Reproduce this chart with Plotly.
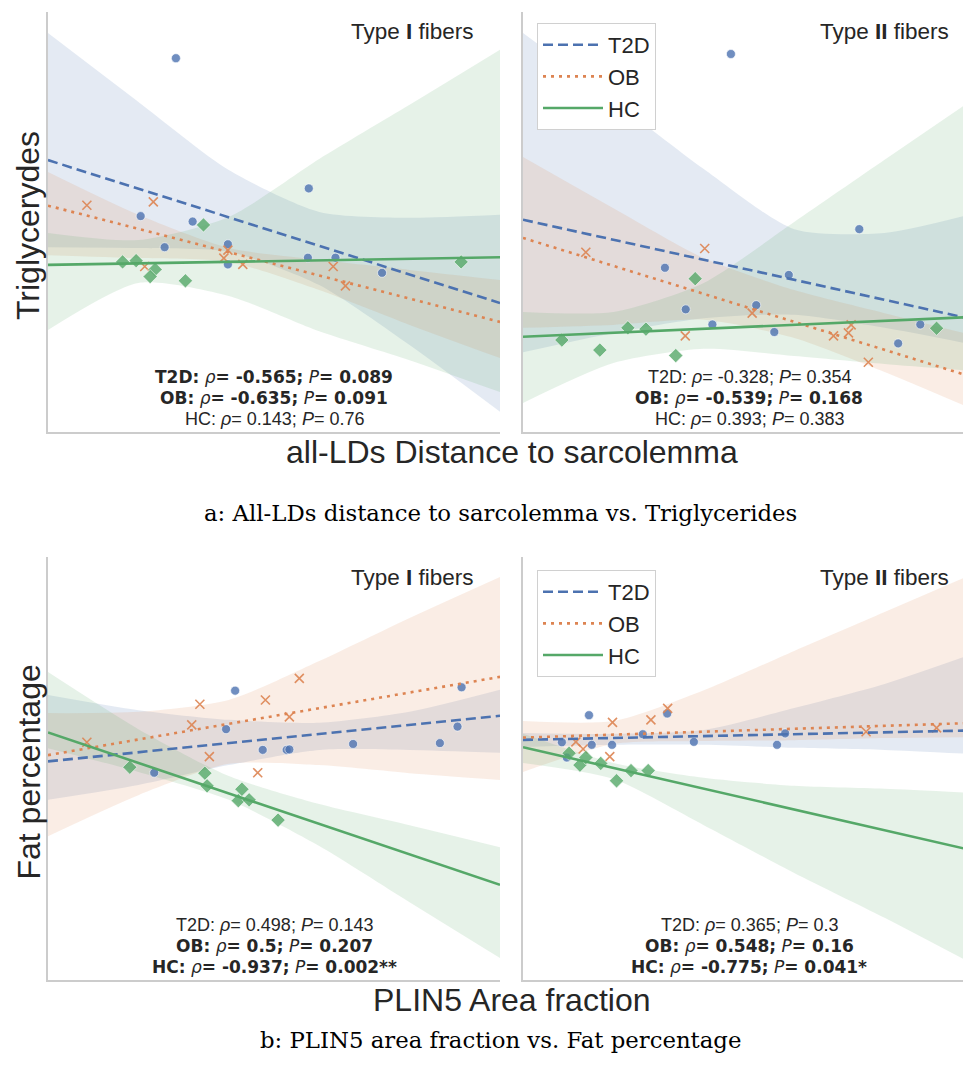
import numpy as np
import plotly.graph_objects as go

W, H = 963, 1072
GROUPS = ["T2D", "OB", "HC"]
COLORS = {"T2D": (76, 114, 176), "OB": (221, 132, 82), "HC": (85, 168, 104)}
DASH = {"T2D": "10px,5px", "OB": "3px,5px", "HC": "solid"}
TEXT = "#262626"

# ---------------- data (arbitrary units, no tick scale shown) ----------------
BAND_X = [0, 20, 40, 60, 80, 100]

# a: all-LDs distance to sarcolemma vs triglycerides, Type I fibers
A1_T2D_X = [28.3, 57.7, 20.5, 32.0, 25.8, 39.8, 39.8, 57.5, 63.6, 73.9]
A1_T2D_Y = [89.0, 58.0, 51.4, 50.1, 44.0, 44.7, 39.9, 41.5, 41.5, 37.9]
A1_OB_X = [8.6, 23.3, 21.4, 38.9, 39.8, 43.1, 63.1, 65.8]
A1_OB_Y = [54.0, 54.8, 39.4, 41.4, 43.3, 39.9, 39.4, 34.8]
A1_HC_X = [16.5, 19.5, 23.7, 22.6, 30.4, 34.4, 91.4]
A1_HC_Y = [40.5, 40.8, 38.7, 37.0, 36.0, 49.3, 40.5]
A1_T2D_HI = [95.0, 78.6, 62.4, 52.4, 51.0, 51.7]
A1_T2D_LO = [44.0, 43.8, 42.9, 35.0, 20.7, 4.8]
A1_OB_HI = [61.9, 51.7, 43.8, 41.0, 38.6, 36.2]
A1_OB_LO = [42.1, 41.4, 40.5, 33.8, 25.5, 17.6]
A1_HC_HI = [47.4, 45.7, 51.2, 65.0, 77.9, 91.0]
A1_HC_LO = [24.3, 35.5, 32.4, 24.0, 17.1, 9.5]

# a: Type II fibers
A2_T2D_X = [46.0, 74.4, 31.4, 58.8, 36.0, 51.6, 41.9, 55.6, 87.9, 83.0]
A2_T2D_Y = [90.0, 48.3, 39.1, 37.4, 29.2, 30.2, 25.6, 23.8, 25.6, 21.1]
A2_OB_X = [13.9, 40.2, 35.9, 50.7, 68.7, 72.0, 72.6, 76.4]
A2_OB_Y = [42.8, 43.7, 22.9, 28.3, 22.9, 23.6, 25.5, 16.6]
A2_HC_X = [8.6, 17.0, 23.2, 27.2, 33.8, 38.1, 91.5]
A2_HC_Y = [21.9, 19.5, 24.8, 24.5, 18.2, 36.5, 24.7]
A2_T2D_HI = [95.0, 79.0, 62.6, 48.3, 47.4, 52.1]
A2_T2D_LO = [19.0, 23.6, 27.1, 27.9, 24.8, 20.7]
A2_OB_HI = [65.5, 53.3, 41.4, 33.8, 28.3, 22.9]
A2_OB_LO = [24.8, 25.5, 26.7, 22.4, 14.3, 5.2]
A2_HC_HI = [28.6, 28.6, 35.5, 50.0, 64.8, 79.5]
A2_HC_LO = [6.9, 16.4, 19.8, 18.1, 16.2, 14.5]

# b: PLIN5 area fraction vs fat percentage, Type I fibers
B1_T2D_X = [41.4, 39.4, 23.5, 47.5, 52.8, 53.4, 67.5, 86.7, 90.6, 91.5]
B1_T2D_Y = [68.4, 59.3, 49.0, 54.4, 54.4, 54.5, 55.8, 56.0, 59.9, 69.2]
B1_OB_X = [8.6, 33.6, 31.8, 35.7, 46.4, 48.1, 53.4, 55.6]
B1_OB_Y = [56.2, 65.2, 60.3, 52.8, 49.0, 66.2, 62.2, 71.3]
B1_HC_X = [18.1, 34.7, 35.2, 42.9, 42.1, 44.5, 50.9]
B1_HC_Y = [50.3, 48.9, 45.9, 45.1, 42.4, 42.6, 37.8]
B1_T2D_HI = [67.4, 63.8, 61.5, 60.8, 63.4, 68.6]
B1_T2D_LO = [42.6, 46.1, 50.8, 54.4, 54.4, 53.7]
B1_OB_HI = [63.1, 63.4, 66.2, 75.4, 85.6, 95.3]
B1_OB_LO = [34.0, 43.7, 51.1, 50.8, 48.9, 47.3]
B1_HC_HI = [72.8, 59.3, 48.2, 41.6, 36.6, 31.4]
B1_HC_LO = [54.8, 49.2, 42.6, 31.7, 18.4, 5.2]

# b: Type II fibers
B2_T2D_X = [14.6, 8.6, 9.7, 15.2, 19.7, 26.5, 31.9, 37.8, 56.2, 58.0]
B2_T2D_Y = [62.6, 56.2, 52.6, 55.6, 55.6, 58.1, 63.0, 56.3, 55.6, 58.3]
B2_OB_X = [11.7, 13.3, 19.8, 19.2, 28.3, 32.0, 75.9, 91.5]
B2_OB_Y = [56.3, 54.6, 60.9, 52.8, 61.5, 64.2, 58.7, 59.6]
B2_HC_X = [10.2, 12.6, 13.9, 17.2, 20.7, 23.9, 27.7]
B2_HC_Y = [53.6, 50.8, 52.6, 51.2, 47.1, 49.5, 49.5]
B2_T2D_HI = [58.4, 58.2, 59.1, 64.3, 70.0, 77.3]
B2_T2D_LO = [55.1, 55.6, 55.6, 54.9, 54.4, 53.4]
B2_OB_HI = [61.2, 61.2, 68.5, 77.8, 87.0, 96.2]
B2_OB_LO = [49.2, 55.8, 56.5, 56.7, 57.2, 57.4]
B2_HC_HI = [58.2, 51.3, 47.8, 45.9, 45.2, 44.2]
B2_HC_LO = [51.3, 47.5, 36.6, 25.3, 14.7, 3.5]

STATS_A1 = ["T2D: ρ= -0.565; P= 0.089", "OB: ρ= -0.635; P= 0.091", "HC: ρ= 0.143; P= 0.76"]
BOLD_A1 = [True, True, False]
STATS_A2 = ["T2D: ρ= -0.328; P= 0.354", "OB: ρ= -0.539; P= 0.168", "HC: ρ= 0.393; P= 0.383"]
BOLD_A2 = [False, True, False]
STATS_B1 = ["T2D: ρ= 0.498; P= 0.143", "OB: ρ= 0.5; P= 0.207", "HC: ρ= -0.937; P= 0.002**"]
BOLD_B1 = [False, True, True]
STATS_B2 = ["T2D: ρ= 0.365; P= 0.3", "OB: ρ= 0.548; P= 0.16", "HC: ρ= -0.775; P= 0.041*"]
BOLD_B2 = [False, True, True]

PANEL_TITLES = ["Type <b>I</b> fibers", "Type <b>II</b> fibers",
                "Type <b>I</b> fibers", "Type <b>II</b> fibers"]
Y_TITLES = ["Triglycerydes", "Fat percentage"]
X_TITLES = ["all-LDs Distance to sarcolemma", "PLIN5 Area fraction"]
CAPTIONS = ["a: All-LDs distance to sarcolemma vs. Triglycerides",
            "b: PLIN5 area fraction vs. Fat percentage"]

# ---------------- layout geometry (pixels) ----------------
LEFT1, RIGHT1 = 48, 500
LEFT2 = 523
PANEL_W = RIGHT1 - LEFT1
TOP_ROWS = [(12, 432), (557, 980)]


def px_x(p):
    return p / W


def px_y(p):
    return 1 - p / H


def rgba(c, a):
    return "rgba(%d,%d,%d,%s)" % (c[0], c[1], c[2], a)


panels = [
    dict(data={"T2D": (A1_T2D_X, A1_T2D_Y, A1_T2D_LO, A1_T2D_HI),
               "OB": (A1_OB_X, A1_OB_Y, A1_OB_LO, A1_OB_HI),
               "HC": (A1_HC_X, A1_HC_Y, A1_HC_LO, A1_HC_HI)},
         stats=STATS_A1, bold=BOLD_A1, col=0, row=0),
    dict(data={"T2D": (A2_T2D_X, A2_T2D_Y, A2_T2D_LO, A2_T2D_HI),
               "OB": (A2_OB_X, A2_OB_Y, A2_OB_LO, A2_OB_HI),
               "HC": (A2_HC_X, A2_HC_Y, A2_HC_LO, A2_HC_HI)},
         stats=STATS_A2, bold=BOLD_A2, col=1, row=0),
    dict(data={"T2D": (B1_T2D_X, B1_T2D_Y, B1_T2D_LO, B1_T2D_HI),
               "OB": (B1_OB_X, B1_OB_Y, B1_OB_LO, B1_OB_HI),
               "HC": (B1_HC_X, B1_HC_Y, B1_HC_LO, B1_HC_HI)},
         stats=STATS_B1, bold=BOLD_B1, col=0, row=1),
    dict(data={"T2D": (B2_T2D_X, B2_T2D_Y, B2_T2D_LO, B2_T2D_HI),
               "OB": (B2_OB_X, B2_OB_Y, B2_OB_LO, B2_OB_HI),
               "HC": (B2_HC_X, B2_HC_Y, B2_HC_LO, B2_HC_HI)},
         stats=STATS_B2, bold=BOLD_B2, col=1, row=1),
]

fig = go.Figure()
annotations = []
layout_axes = {}

MARKERS = {
    "T2D": dict(symbol="circle", size=9, color=rgba(COLORS["T2D"], 0.8),
                line=dict(width=0.6, color="white")),
    "OB": dict(symbol="x-thin", size=9, color=rgba(COLORS["OB"], 0.9),
               line=dict(width=1.6, color=rgba(COLORS["OB"], 0.9))),
    "HC": dict(symbol="diamond", size=11, color=rgba(COLORS["HC"], 0.8),
               line=dict(width=0.6, color="white")),
}

for i, p in enumerate(panels):
    k = "" if i == 0 else str(i + 1)
    xa, ya = "x" + k, "y" + k
    left = LEFT1 if p["col"] == 0 else LEFT2
    right = min(left + PANEL_W, W)
    top, bottom = TOP_ROWS[p["row"]]
    xmax = 100 * (right - left) / PANEL_W
    layout_axes["xaxis" + k] = dict(
        domain=[px_x(left), px_x(right)], anchor=ya, range=[0, xmax],
        showgrid=False, zeroline=False, showticklabels=False, ticks="",
        showline=True, linecolor="#cccccc", linewidth=1.6)
    layout_axes["yaxis" + k] = dict(
        domain=[px_y(bottom), px_y(top)], anchor=xa, range=[0, 100],
        showgrid=False, zeroline=False, showticklabels=False, ticks="",
        showline=True, linecolor="#cccccc", linewidth=1.6)

    legend_name = "legend" if i == 1 else ("legend2" if i == 3 else None)

    for g in GROUPS:
        gx, gy, lo, hi = p["data"][g]
        c = COLORS[g]
        fig.add_trace(go.Scatter(x=BAND_X, y=lo, xaxis=xa, yaxis=ya, mode="lines",
                                 line=dict(width=0, shape="spline", smoothing=0.7),
                                 showlegend=False, hoverinfo="skip"))
        fig.add_trace(go.Scatter(x=BAND_X, y=hi, xaxis=xa, yaxis=ya, mode="lines",
                                 line=dict(width=0, shape="spline", smoothing=0.7),
                                 fill="tonexty", fillcolor=rgba(c, 0.15),
                                 showlegend=False, hoverinfo="skip"))
    for g in GROUPS:
        gx, gy, lo, hi = p["data"][g]
        fig.add_trace(go.Scatter(x=gx, y=gy, xaxis=xa, yaxis=ya, mode="markers",
                                 marker=MARKERS[g], showlegend=False))
    for g in GROUPS:
        gx, gy, lo, hi = p["data"][g]
        slope, icpt = np.polyfit(gx, gy, 1)
        lx = np.array([0.0, 100.0])
        kw = dict(x=lx, y=icpt + slope * lx, xaxis=xa, yaxis=ya, mode="lines",
                  name=g, line=dict(color=rgba(COLORS[g], 1), width=2.6, dash=DASH[g]),
                  showlegend=legend_name is not None)
        if legend_name:
            kw["legend"] = legend_name
        fig.add_trace(go.Scatter(**kw))

    # panel title
    annotations.append(dict(
        text=PANEL_TITLES[i], xref="paper", yref="paper",
        x=px_x(left + 0.948 * PANEL_W), y=px_y(top + 20),
        xanchor="right", yanchor="middle", showarrow=False,
        font=dict(size=22.5, family="Liberation Sans", color=TEXT)))

    # stats text
    cx = left + PANEL_W / 2
    for j, (s, b) in enumerate(zip(p["stats"], p["bold"])):
        lab, rest = s.split(": ", 1)
        rho_part, p_part = rest.split("; ")
        rv = rho_part.split("= ")[1]
        pv = p_part.split("= ")[1]
        if b:
            txt = ("<b>%s:</b> <i>ρ</i><b>= %s;</b> <i>P</i><b>= %s</b>" % (lab, rv, pv))
            fnt = dict(size=17, family="DejaVu Sans", color=TEXT)
        else:
            txt = "%s: <i>ρ</i>= %s; <i>P</i>= %s" % (lab, rv, pv)
            fnt = dict(size=18, family="Liberation Sans", color=TEXT)
        annotations.append(dict(
            text=txt, xref="paper", yref="paper", x=px_x(cx),
            y=px_y(bottom - 55 + j * 21), xanchor="center", yanchor="middle",
            showarrow=False, font=fnt))

# axis titles and captions
for r in range(2):
    top, bottom = TOP_ROWS[r]
    annotations.append(dict(
        text=Y_TITLES[r], xref="paper", yref="paper", x=px_x(28),
        y=px_y((top + bottom) / 2 + 4), textangle=-90, xanchor="center",
        yanchor="middle", showarrow=False,
        font=dict(size=32, family="Liberation Sans", color=TEXT)))
    annotations.append(dict(
        text=X_TITLES[r], xref="paper", yref="paper",
        x=px_x((LEFT1 + LEFT2 + PANEL_W) / 2), y=px_y(bottom + 20),
        xanchor="center", yanchor="middle", showarrow=False,
        font=dict(size=32, family="Liberation Sans", color=TEXT)))
    annotations.append(dict(
        text=CAPTIONS[r], xref="paper", yref="paper",
        x=px_x(501), y=px_y(bottom + 81 if r == 0 else bottom + 60),
        xanchor="center", yanchor="middle", showarrow=False,
        font=dict(size=22.8, family="DejaVu Serif", color="#000000")))

legend_style = dict(bgcolor="white", bordercolor="#d0d0d0", borderwidth=1,
                    font=dict(size=22, family="Liberation Sans", color=TEXT),
                    xanchor="left", yanchor="top", tracegroupgap=0,
                    traceorder="normal", itemwidth=60)

fig.update_layout(
    width=W, height=H, margin=dict(l=0, r=0, t=0, b=0),
    paper_bgcolor="white", plot_bgcolor="white",
    font=dict(family="Liberation Sans", color=TEXT),
    annotations=annotations,
    legend=dict(x=px_x(537), y=px_y(23), **legend_style),
    legend2=dict(x=px_x(537), y=px_y(570), **legend_style),
    **layout_axes,
)

fig.write_html("out.html")
